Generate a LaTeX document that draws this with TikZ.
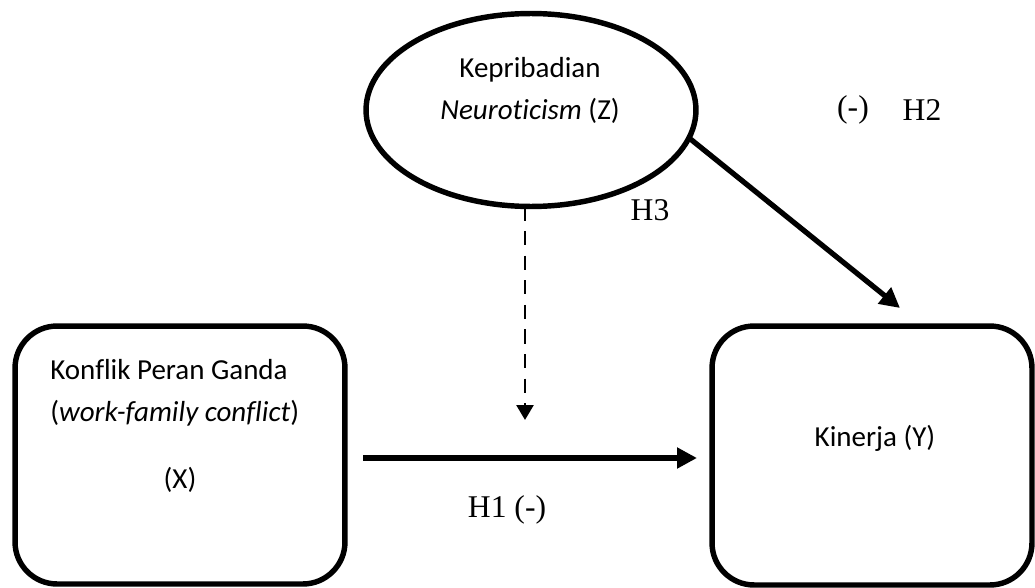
\documentclass[tikz,border=0pt]{standalone}
\usepackage{fontspec}
\setmainfont[Ligatures=NoCommon]{Carlito}
\newfontfamily\timesfont{Liberation Serif}
\usetikzlibrary{arrows.meta,shapes.geometric}

\begin{document}
\begin{tikzpicture}[x=0.02cm,y=-0.02cm,
  varbox/.style={draw,line width=3.1pt,rounded corners=0.84cm,inner sep=0pt},
  txt/.style={font=\fontsize{16.5}{19}\selectfont,inner sep=0pt},
  hyp/.style={font=\timesfont\fontsize{18}{20}\selectfont,inner sep=0pt},
  path/.style={line width=3pt,-{Triangle[length=0.4cm,width=0.4cm]}}]

\useasboundingbox (0,0) rectangle (1035,588);

\node[varbox,minimum width=6.6cm,minimum height=5.16cm] (X) at (180,455) {};
\node[varbox,minimum width=6.4cm,minimum height=5.18cm] (Y) at (872,455.5) {};
\node[draw,ellipse,line width=3.1pt,minimum width=6.6cm,minimum height=3.86cm,inner sep=0pt,outer sep=0pt] (Z) at (531,110) {};

\node[txt,anchor=west] (x1) at (50,370) {Konflik Peran Ganda};
\node[txt,anchor=west] (x2) at (50,413) {(\textit{work-family conflict})};
\node[txt] (x3) at (180,480) {(X)};
\node[txt] (y1) at (875,438) {Kinerja (Y)};
\node[txt] (z1) at (530,70) {Kepribadian};
\node[txt] (z2) at (530,111) {\textit{Neuroticism} (Z)};

\node[hyp] (h1) at (507,510) {H1 (-)};
\node[hyp] (h2a) at (853,110) {(-)};
\node[hyp] (h2) at (922,110) {H2};
\node[hyp] (h3) at (650,210) {H3};

\coordinate (xy1) at (363,458);
\coordinate (xy2) at (697,458);
\coordinate (zy) at (900,308);
\coordinate (mod) at (525,420);

\draw[path] (xy1) -- (xy2);
\draw[path] (Z.-10) -- (zy);
\draw[line width=1.5pt,dash pattern=on 8pt off 6pt,-{Triangle[length=0.3cm,width=0.34cm]}] (Z.south -| mod) -- (mod);
\end{tikzpicture}
\end{document}
